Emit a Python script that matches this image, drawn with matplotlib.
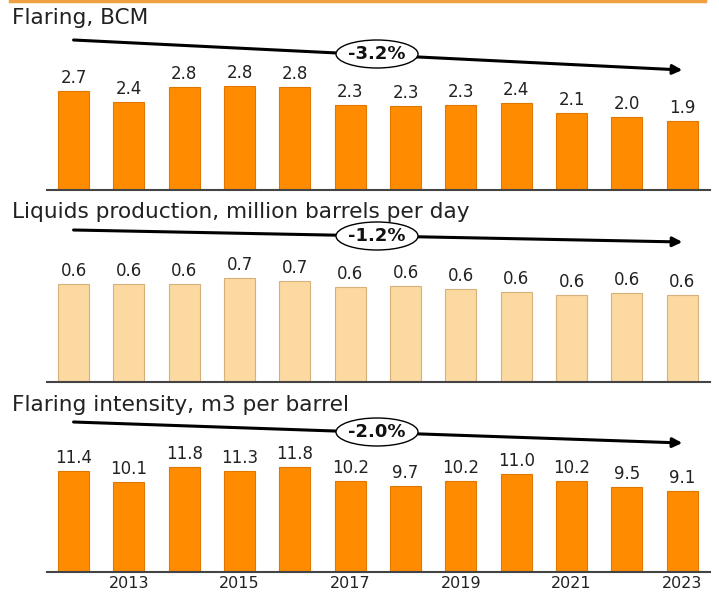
import matplotlib.pyplot as plt
from matplotlib.patches import Ellipse

years = list(range(2012, 2024))
tick_years = [2013, 2015, 2017, 2019, 2021, 2023]

flaring_bcm = [2.72, 2.41, 2.82, 2.84, 2.83, 2.34, 2.30, 2.33, 2.38, 2.10, 2.00, 1.89]
liquids_mbd = [0.64, 0.64, 0.64, 0.68, 0.66, 0.62, 0.63, 0.61, 0.59, 0.57, 0.58, 0.57]
intensity_m3 = [11.4, 10.1, 11.8, 11.3, 11.8, 10.2, 9.7, 10.2, 11.0, 10.2, 9.5, 9.1]

titles = ["Flaring, BCM",
          "Liquids production, million barrels per day",
          "Flaring intensity, m3 per barrel"]
changes = ["-3.2%", "-1.2%", "-2.0%"]

W, H = 719, 595
fig = plt.figure(figsize=(W / 100, H / 100), dpi=100)
plt.rcParams['font.family'] = 'DejaVu Sans'

dark = '#FF8C00'
light = '#FDD9A2'


def fx(px):
    return px / W


def fy(py):
    # pixel from top -> figure fraction
    return 1 - py / H


# panel layout in pixels: baseline, px per unit, title y, arrow y start/end, ellipse y
panels = [
    dict(data=flaring_bcm, base=190, scale=36.5, ty=18, a0=40, a1=70, ey=54,
         fc=dark, ec='#E07800'),
    dict(data=liquids_mbd, base=382, scale=153, ty=212, a0=230, a1=242, ey=236,
         fc=light, ec='#D8B07C'),
    dict(data=intensity_m3, base=572, scale=8.9, ty=405, a0=422, a1=443, ey=432,
         fc=dark, ec='#E07800'),
]

x_left, x_right = 47, 710
top_px = 60

for i, p in enumerate(panels):
    h_px = p['base'] - top_px if i == 0 else p['base'] - (panels[i - 1]['base'] + 70)
    ax = fig.add_axes([fx(x_left), fy(p['base']), fx(x_right - x_left), h_px / H])
    ax.set_xlim(2011.52, 2023.5)
    ax.set_ylim(0, h_px / p['scale'])
    ax.bar(years, p['data'], width=0.56, color=p['fc'], edgecolor=p['ec'], linewidth=0.8)
    for x, v in zip(years, p['data']):
        ax.text(x, v + 4 / p['scale'], f"{v:.1f}", ha='center', va='bottom',
                fontsize=12, color='#222222')
    for s in ['top', 'right', 'left']:
        ax.spines[s].set_visible(False)
    ax.spines['bottom'].set_color('#444444')
    ax.spines['bottom'].set_linewidth(1.5)
    ax.set_yticks([])
    if i == 2:
        ax.set_xticks(tick_years)
        ax.set_xticklabels([str(t) for t in tick_years], fontsize=11.5, color='#222222')
        ax.tick_params(axis='x', length=0, pad=3)
    else:
        ax.set_xticks([])

    fig.text(fx(12), fy(p['ty']), titles[i], fontsize=15.6, color='#222222',
             ha='left', va='center')

    ax.annotate('', xy=(2023, fy(p['a1'])), xytext=(2012, fy(p['a0'])),
                xycoords=('data', 'figure fraction'),
                textcoords=('data', 'figure fraction'),
                arrowprops=dict(arrowstyle='-|>', lw=2.2, color='black',
                                mutation_scale=14, shrinkA=0, shrinkB=0),
                annotation_clip=False)
    el = Ellipse((fx(377), fy(p['ey'])), fx(82), 28 / H, transform=fig.transFigure,
                 facecolor='white', edgecolor='black', linewidth=1, zorder=5)
    fig.patches.append(el)
    fig.text(fx(377), fy(p['ey']), changes[i], fontsize=13, fontweight='bold',
             color='#111111', ha='center', va='center', zorder=6)

# orange rule at top of the slide
fig.add_artist(plt.Line2D([fx(10), fx(705)], [fy(1), fy(1)], color='#F0A040',
                          lw=2.5, transform=fig.transFigure))

fig.savefig('out.png', dpi=100)
